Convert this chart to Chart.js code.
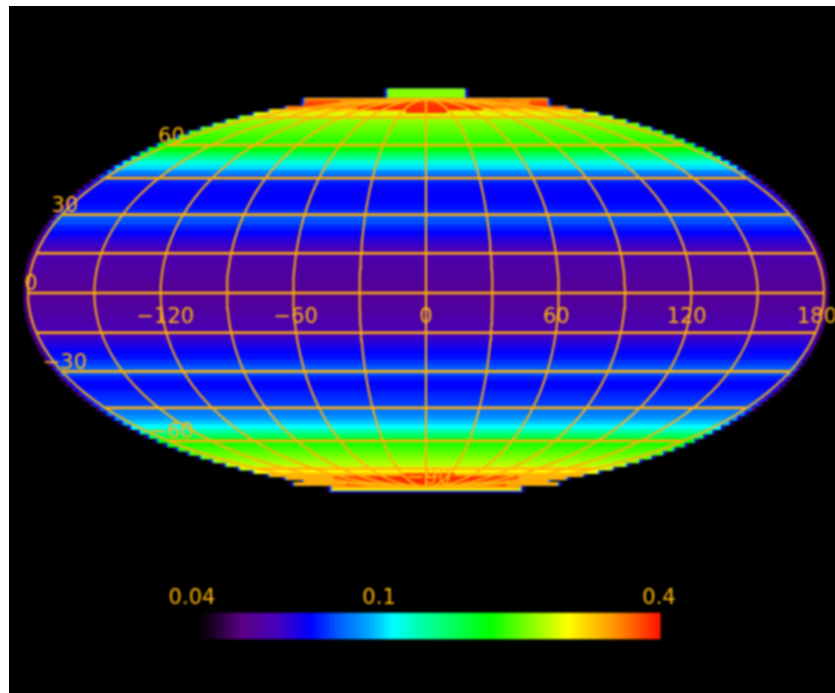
<!DOCTYPE html>
<html><head><meta charset="utf-8">
<style>
html,body{margin:0;padding:0;background:#fff;overflow:hidden}
#wrap{position:absolute;left:9px;top:6px;width:826px;height:687px;background:#000;overflow:hidden}
canvas{display:block;filter:blur(0.8px)}
</style>
<script src="https://cdn.jsdelivr.net/npm/chart.js@4"></script>
</head><body><div id="wrap"><canvas id="c" width="826" height="687"></canvas></div>
<script>
// Latitude rows of the map and the value read for each row
const rowLats=[90,88,86,84,82,80,78,76,74,72,70,68,66,64,62,60,58,56,54,52,50,48,46,44,42,40,38,36,34,32,30,28,26,24,22,20,18,16,14,12,10,8,6,4,2,0,
-2,-4,-6,-8,-10,-12,-14,-16,-18,-20,-22,-24,-26,-28,-30,-32,-34,-36,-38,-40,-42,-44,-46,-48,-50,-52,-54,-56,-58,-60,-62,-64,-66,-68,-70,-72,-74,-76,-78,-80,-82,-84,-86,-88,-90];
const rowValues=[.2099,.2099,.2099,.3177,.3565,.3733,.3404,.2767,.2410,.2198,.2148,.2051,.2005,.1959,.1871,.1828,.1746,.1706,.1452,.1265,.1102,.1005,.0875,.0780,.0728,.0703,.0687,.0695,.0695,.0711,.0745,.0798,.0780,.0728,.0695,.0649,.0612,.0578,.0565,.0558,.0552,.0546,.0540,.0533,.0527,.0521,
.0527,.0533,.0540,.0546,.0558,.0565,.0572,.0598,.0627,.0656,.0687,.0711,.0754,.0798,.0798,.0728,.0695,.0703,.0728,.0745,.0762,.0798,.0855,.0896,.0971,.1052,.1208,.1419,.1667,.1766,.1871,.1959,.2051,.2148,.2249,.2355,.2524,.2965,.3034,.3034,.3034,.3177,.2897,.2400,.0720];
// Polar cap patches that differ from their row
const patchLats=[82,82,82,82,78,76,-78,-80,-82,-76];
const patchFrom=[-.216,-.116,.11,.21,-.17,-.05,-.23,-.23,-.2,-.06];
const patchTo=[-.166,-.066,.16,.26,.14,.05,.23,.23,.2,.07];
const patchValues=[.32,.32,.32,.32,.38,.38,.38,.385,.375,.36];
// Graticule and labels
const gridLons=[-180,-150,-120,-90,-60,-30,0,30,60,90,120,150,180];
const gridLats=[-75,-60,-45,-30,-15,0,15,30,45,60,75];
const lonLabels=[-120,-60,0,60,120,180];
const latLabels=[60,30,0,-30,-60,-90];
const colorbarTicks=[0.04,0.1,0.4];
const colorbarTickLabels=['0.04','0.1','0.4'];
const valueMin=0.04,valueMax=0.4;
const colorPositions=[0,.09,.17,.24,.30,.37,.42,.48,.63,.80,.90,1];
const colorReds=[0,90,70,0,0,0,0,0,0,255,255,255];
const colorGreens=[0,0,0,0,90,170,255,255,255,255,150,20];
const colorBlues=[0,130,190,255,255,255,255,170,0,0,0,0];

const ORANGE='rgb(255,178,10)';
const GRID_Y=.975, EDGE_Y=.985;
function colorOf(v){
  const t=Math.max(0,Math.min(1,Math.log10(v/valueMin)/Math.log10(valueMax/valueMin)));
  let i=0;while(i<colorPositions.length-2&&t>colorPositions[i+1])i++;
  const f=(t-colorPositions[i])/(colorPositions[i+1]-colorPositions[i]);
  const m=a=>Math.round(a[i]+(a[i+1]-a[i])*f);
  return `rgb(${m(colorReds)},${m(colorGreens)},${m(colorBlues)})`;
}
// Mollweide projection: x,y in [-1,1]
function theta(lat){
  const phi=lat*Math.PI/180;
  if(Math.abs(lat)>=90)return Math.sign(lat)*Math.PI/2;
  let t=phi;
  for(let k=0;k<60;k++){t-=(2*t+Math.sin(2*t)-Math.PI*Math.sin(phi))/(2+2*Math.cos(2*t)+1e-9);}
  return t;
}
const px=(lon,lat)=>lon/180*Math.cos(theta(lat));
const py=lat=>Math.sin(theta(lat));
const ds=[];
function poly(x0,x1,y0,y1,color){
  ds.push({type:'line',xAxisID:'x',yAxisID:'y',data:[{x:x0,y:y0},{x:x1,y:y0},{x:x1,y:y1},{x:x0,y:y1},{x:x0,y:y0}],
    fill:'shape',backgroundColor:color,borderColor:color,borderWidth:1,pointRadius:0,tension:0});
}
function rowGeom(lat){
  const hi=Math.min(lat+1,90),lo=Math.max(lat-1,-90);
  let top=py(hi),bot=py(lo);
  const near=Math.min(Math.abs(top),Math.abs(bot))/EDGE_Y;
  let hw=Math.sqrt(Math.max(0,1-near*near));
  if(lat>=86)hw=.0955;
  if(lat===84||lat===82)hw=.304;
  if(lat<=-84)hw=.236;
  if(lat===-82)hw=.33;
  if(lat===90)top=1.025;
  return {top,bot,hw};
}
// halo behind the map edge
rowLats.forEach(lat=>{const g=rowGeom(lat);poly(-g.hw-.012,g.hw+.012,g.top,g.bot,'rgb(40,0,70)');});
rowLats.forEach((lat,i)=>{const g=rowGeom(lat);
  poly(-g.hw-.007,g.hw+.007,g.top,g.bot,rowValues[i]>.085?'rgb(10,0,200)':'rgb(80,0,140)');});
rowLats.forEach((lat,i)=>{const g=rowGeom(lat);
  if(rowValues[i]>.15)poly(-g.hw-.0035,g.hw+.0035,g.top,g.bot,'rgb(0,150,255)');});
rowLats.forEach((lat,i)=>{const g=rowGeom(lat);poly(-g.hw,g.hw,g.top,g.bot,colorOf(rowValues[i]));});
patchLats.forEach((lat,i)=>{const g=rowGeom(lat);poly(patchFrom[i],patchTo[i],g.top,g.bot,colorOf(patchValues[i]));});
// graticule
gridLons.forEach(lon=>{const pts=[];for(let a=-90;a<=90;a+=3)pts.push({x:px(lon,a),y:py(a)*GRID_Y});
  ds.push({type:'line',data:pts,borderColor:ORANGE,borderWidth:2,pointRadius:0,tension:0,fill:false});});
gridLats.forEach(lat=>{ds.push({type:'line',data:[{x:px(-180,lat),y:py(lat)*GRID_Y},{x:px(180,lat),y:py(lat)*GRID_Y}],borderColor:ORANGE,borderWidth:2.6,pointRadius:0,fill:false});});
// colour bar
const STEPS=92;
for(let i=0;i<STEPS;i++){
  const a=valueMin*Math.pow(valueMax/valueMin,i/STEPS),b=valueMin*Math.pow(valueMax/valueMin,(i+1)/STEPS);
  const c=valueMin*Math.pow(valueMax/valueMin,(i+.5)/STEPS);
  ds.push({type:'line',xAxisID:'xc',yAxisID:'y',data:[{x:a,y:-1.608},{x:b,y:-1.608},{x:b,y:-1.739},{x:a,y:-1.739},{x:a,y:-1.608}],
    fill:'shape',backgroundColor:colorOf(c),borderColor:colorOf(c),borderWidth:.5,pointRadius:0,tension:0});
}
ds.forEach((d,i)=>{d.order=ds.length-i;d.parsing=false;d.normalized=false;});

const labelsPlugin={id:'mapLabels',afterDatasetsDraw(chart){
  const {ctx,scales}=chart;const X=scales.x,Y=scales.y,C=scales.xc;
  ctx.save();ctx.fillStyle='rgb(255,182,10)';ctx.font='21px "DejaVu Sans"';ctx.textAlign='center';ctx.textBaseline='middle';
  const fmt=n=>String(n).replace('-','\u2212');
  lonLabels.forEach(l=>{const x=l/180;ctx.fillText(fmt(l),X.getPixelForValue(x)-7*x,Y.getPixelForValue(0)+25);});
  latLabels.forEach(l=>{ctx.fillText(fmt(l),X.getPixelForValue(px(-180,l))+3,Y.getPixelForValue(py(l)*GRID_Y)-8);});
  const shift=[-8,-4,-1];
  colorbarTicks.forEach((v,i)=>{ctx.fillText(colorbarTickLabels[i],C.getPixelForValue(v)+shift[i],Y.getPixelForValue(-1.533));});
  ctx.restore();
}};
new Chart(document.getElementById('c'),{
  type:'line',
  data:{datasets:ds},
  options:{responsive:false,animation:false,events:[],layout:{padding:0},
    plugins:{legend:{display:false},tooltip:{enabled:false}},
    scales:{
      x:{type:'linear',display:false,min:(9-426)/398,max:(835-426)/398},
      y:{type:'linear',display:false,min:(293-693)/199,max:(293-6)/199},
      xc:{type:'logarithmic',axis:'x',display:false,min:valueMin*Math.pow(10,-191/460),max:valueMax*Math.pow(10,175/460)}
    }},
  plugins:[labelsPlugin]
});
</script></body></html>
